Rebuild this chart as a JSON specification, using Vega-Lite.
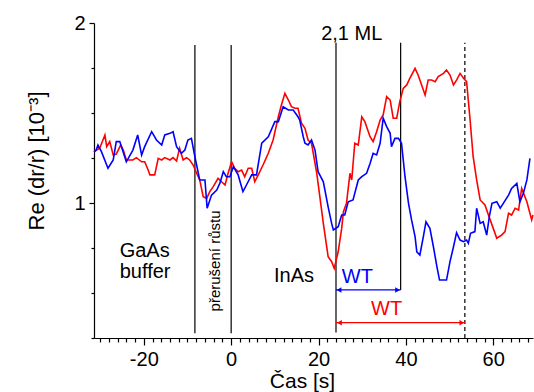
{
  "$schema": "https://vega.github.io/schema/vega-lite/v6.json",
  "width": 439,
  "height": 315,
  "autosize": "none",
  "padding": {"left": 94, "top": 23, "right": 1, "bottom": 54},
  "background": "white",
  "config": {"view": {"stroke": null}, "font": "Liberation Sans"},
  "datasets": {
    "curves": [
      {"x": -31.4, "y": 1.286, "s": "red"}, {"x": -30.1, "y": 1.304, "s": "red"}, {"x": -28.9, "y": 1.378, "s": "red"}, {"x": -28.5, "y": 1.313, "s": "red"}, {"x": -27.8, "y": 1.341, "s": "red"}, {"x": -27.0, "y": 1.267, "s": "red"}, {"x": -26.3, "y": 1.272, "s": "red"}, {"x": -25.3, "y": 1.322, "s": "red"}, {"x": -24.7, "y": 1.294, "s": "red"}, {"x": -24.0, "y": 1.239, "s": "red"}, {"x": -22.5, "y": 1.239, "s": "red"}, {"x": -21.7, "y": 1.252, "s": "red"}, {"x": -20.5, "y": 1.229, "s": "red"}, {"x": -19.8, "y": 1.229, "s": "red"}, {"x": -19.0, "y": 1.183, "s": "red"}, {"x": -18.6, "y": 1.156, "s": "red"}, {"x": -17.5, "y": 1.156, "s": "red"}, {"x": -16.7, "y": 1.248, "s": "red"}, {"x": -15.9, "y": 1.239, "s": "red"}, {"x": -15.2, "y": 1.252, "s": "red"}, {"x": -14.0, "y": 1.239, "s": "red"}, {"x": -13.3, "y": 1.252, "s": "red"}, {"x": -12.5, "y": 1.233, "s": "red"}, {"x": -11.8, "y": 1.304, "s": "red"}, {"x": -11.0, "y": 1.239, "s": "red"}, {"x": -10.2, "y": 1.252, "s": "red"}, {"x": -9.5, "y": 1.239, "s": "red"}, {"x": -8.7, "y": 1.211, "s": "red"}, {"x": -7.9, "y": 1.165, "s": "red"}, {"x": -7.2, "y": 1.128, "s": "red"}, {"x": -6.4, "y": 1.035, "s": "red"}, {"x": -5.6, "y": 1.026, "s": "red"}, {"x": -4.9, "y": 1.063, "s": "red"}, {"x": -4.1, "y": 1.091, "s": "red"}, {"x": -3.0, "y": 1.137, "s": "red"}, {"x": -2.2, "y": 1.118, "s": "red"}, {"x": -1.4, "y": 1.1, "s": "red"}, {"x": -0.7, "y": 1.165, "s": "red"}, {"x": 0.1, "y": 1.229, "s": "red"}, {"x": 0.8, "y": 1.193, "s": "red"}, {"x": 1.6, "y": 1.174, "s": "red"}, {"x": 2.4, "y": 1.183, "s": "red"}, {"x": 3.1, "y": 1.146, "s": "red"}, {"x": 3.9, "y": 1.193, "s": "red"}, {"x": 4.7, "y": 1.193, "s": "red"}, {"x": 5.4, "y": 1.118, "s": "red"}, {"x": 6.2, "y": 1.156, "s": "red"}, {"x": 7.3, "y": 1.211, "s": "red"}, {"x": 8.5, "y": 1.276, "s": "red"}, {"x": 9.6, "y": 1.35, "s": "red"}, {"x": 10.8, "y": 1.479, "s": "red"}, {"x": 11.5, "y": 1.544, "s": "red"}, {"x": 12.3, "y": 1.609, "s": "red"}, {"x": 13.1, "y": 1.572, "s": "red"}, {"x": 13.8, "y": 1.535, "s": "red"}, {"x": 14.6, "y": 1.526, "s": "red"}, {"x": 15.3, "y": 1.526, "s": "red"}, {"x": 16.1, "y": 1.443, "s": "red"}, {"x": 16.9, "y": 1.415, "s": "red"}, {"x": 17.6, "y": 1.35, "s": "red"}, {"x": 18.4, "y": 1.332, "s": "red"}, {"x": 19.6, "y": 1.165, "s": "red"}, {"x": 20.3, "y": 1.035, "s": "red"}, {"x": 21.1, "y": 0.887, "s": "red"}, {"x": 22.2, "y": 0.702, "s": "red"}, {"x": 23.0, "y": 0.674, "s": "red"}, {"x": 23.6, "y": 0.637, "s": "red"}, {"x": 24.5, "y": 0.729, "s": "red"}, {"x": 25.3, "y": 0.859, "s": "red"}, {"x": 25.7, "y": 0.952, "s": "red"}, {"x": 26.4, "y": 0.998, "s": "red"}, {"x": 27.2, "y": 1.165, "s": "red"}, {"x": 27.6, "y": 1.128, "s": "red"}, {"x": 28.3, "y": 1.332, "s": "red"}, {"x": 29.1, "y": 1.322, "s": "red"}, {"x": 29.9, "y": 1.479, "s": "red"}, {"x": 30.6, "y": 1.452, "s": "red"}, {"x": 31.8, "y": 1.368, "s": "red"}, {"x": 32.5, "y": 1.341, "s": "red"}, {"x": 33.3, "y": 1.396, "s": "red"}, {"x": 34.1, "y": 1.461, "s": "red"}, {"x": 34.8, "y": 1.489, "s": "red"}, {"x": 35.6, "y": 1.591, "s": "red"}, {"x": 36.4, "y": 1.572, "s": "red"}, {"x": 37.1, "y": 1.471, "s": "red"}, {"x": 37.9, "y": 1.471, "s": "red"}, {"x": 38.6, "y": 1.563, "s": "red"}, {"x": 39.4, "y": 1.637, "s": "red"}, {"x": 40.2, "y": 1.656, "s": "red"}, {"x": 40.9, "y": 1.693, "s": "red"}, {"x": 42.1, "y": 1.748, "s": "red"}, {"x": 42.8, "y": 1.711, "s": "red"}, {"x": 43.6, "y": 1.656, "s": "red"}, {"x": 44.4, "y": 1.6, "s": "red"}, {"x": 45.1, "y": 1.683, "s": "red"}, {"x": 45.9, "y": 1.683, "s": "red"}, {"x": 46.7, "y": 1.674, "s": "red"}, {"x": 47.4, "y": 1.702, "s": "red"}, {"x": 48.6, "y": 1.72, "s": "red"}, {"x": 49.3, "y": 1.739, "s": "red"}, {"x": 50.1, "y": 1.711, "s": "red"}, {"x": 50.9, "y": 1.656, "s": "red"}, {"x": 51.6, "y": 1.683, "s": "red"}, {"x": 52.4, "y": 1.72, "s": "red"}, {"x": 53.2, "y": 1.693, "s": "red"}, {"x": 53.9, "y": 1.674, "s": "red"}, {"x": 54.7, "y": 1.461, "s": "red"}, {"x": 55.4, "y": 1.257, "s": "red"}, {"x": 56.2, "y": 1.128, "s": "red"}, {"x": 57.0, "y": 1.017, "s": "red"}, {"x": 58.1, "y": 0.989, "s": "red"}, {"x": 58.9, "y": 0.933, "s": "red"}, {"x": 60.0, "y": 0.859, "s": "red"}, {"x": 60.8, "y": 0.804, "s": "red"}, {"x": 61.9, "y": 0.822, "s": "red"}, {"x": 62.7, "y": 0.841, "s": "red"}, {"x": 63.5, "y": 0.943, "s": "red"}, {"x": 64.2, "y": 0.933, "s": "red"}, {"x": 65.0, "y": 0.971, "s": "red"}, {"x": 65.8, "y": 0.961, "s": "red"}, {"x": 66.5, "y": 1.081, "s": "red"}, {"x": 67.7, "y": 1.007, "s": "red"}, {"x": 68.8, "y": 0.906, "s": "red"}, {"x": 69.1, "y": 0.933, "s": "red"},
      {"x": -31.4, "y": 1.283, "s": "blue"}, {"x": -30.9, "y": 1.294, "s": "blue"}, {"x": -30.5, "y": 1.322, "s": "blue"}, {"x": -29.7, "y": 1.285, "s": "blue"}, {"x": -28.2, "y": 1.193, "s": "blue"}, {"x": -27.0, "y": 1.239, "s": "blue"}, {"x": -26.3, "y": 1.341, "s": "blue"}, {"x": -25.5, "y": 1.341, "s": "blue"}, {"x": -24.0, "y": 1.229, "s": "blue"}, {"x": -22.5, "y": 1.294, "s": "blue"}, {"x": -21.4, "y": 1.378, "s": "blue"}, {"x": -20.5, "y": 1.267, "s": "blue"}, {"x": -19.8, "y": 1.313, "s": "blue"}, {"x": -18.2, "y": 1.396, "s": "blue"}, {"x": -17.1, "y": 1.35, "s": "blue"}, {"x": -15.9, "y": 1.322, "s": "blue"}, {"x": -15.2, "y": 1.378, "s": "blue"}, {"x": -14.0, "y": 1.387, "s": "blue"}, {"x": -13.3, "y": 1.396, "s": "blue"}, {"x": -12.5, "y": 1.313, "s": "blue"}, {"x": -11.4, "y": 1.276, "s": "blue"}, {"x": -10.6, "y": 1.294, "s": "blue"}, {"x": -9.9, "y": 1.35, "s": "blue"}, {"x": -9.1, "y": 1.359, "s": "blue"}, {"x": -8.3, "y": 1.257, "s": "blue"}, {"x": -7.2, "y": 1.128, "s": "blue"}, {"x": -6.0, "y": 1.128, "s": "blue"}, {"x": -5.5, "y": 0.971, "s": "blue"}, {"x": -4.5, "y": 1.044, "s": "blue"}, {"x": -3.3, "y": 1.072, "s": "blue"}, {"x": -2.6, "y": 1.109, "s": "blue"}, {"x": -1.8, "y": 1.174, "s": "blue"}, {"x": -1.1, "y": 1.146, "s": "blue"}, {"x": -0.3, "y": 1.146, "s": "blue"}, {"x": 0.5, "y": 1.202, "s": "blue"}, {"x": 1.6, "y": 1.156, "s": "blue"}, {"x": 2.7, "y": 1.063, "s": "blue"}, {"x": 3.5, "y": 1.1, "s": "blue"}, {"x": 4.7, "y": 1.156, "s": "blue"}, {"x": 5.8, "y": 1.156, "s": "blue"}, {"x": 7.0, "y": 1.332, "s": "blue"}, {"x": 8.5, "y": 1.368, "s": "blue"}, {"x": 10.0, "y": 1.452, "s": "blue"}, {"x": 10.8, "y": 1.452, "s": "blue"}, {"x": 11.9, "y": 1.535, "s": "blue"}, {"x": 13.1, "y": 1.517, "s": "blue"}, {"x": 14.2, "y": 1.517, "s": "blue"}, {"x": 15.3, "y": 1.479, "s": "blue"}, {"x": 15.7, "y": 1.461, "s": "blue"}, {"x": 16.5, "y": 1.368, "s": "blue"}, {"x": 16.9, "y": 1.332, "s": "blue"}, {"x": 17.6, "y": 1.322, "s": "blue"}, {"x": 18.4, "y": 1.35, "s": "blue"}, {"x": 19.2, "y": 1.294, "s": "blue"}, {"x": 19.9, "y": 1.174, "s": "blue"}, {"x": 21.1, "y": 1.118, "s": "blue"}, {"x": 22.2, "y": 0.979, "s": "blue"}, {"x": 23.0, "y": 0.887, "s": "blue"}, {"x": 23.4, "y": 0.85, "s": "blue"}, {"x": 24.5, "y": 0.868, "s": "blue"}, {"x": 25.3, "y": 0.933, "s": "blue"}, {"x": 26.0, "y": 0.933, "s": "blue"}, {"x": 26.8, "y": 1.007, "s": "blue"}, {"x": 27.9, "y": 1.017, "s": "blue"}, {"x": 29.1, "y": 1.128, "s": "blue"}, {"x": 29.9, "y": 1.146, "s": "blue"}, {"x": 31.0, "y": 1.165, "s": "blue"}, {"x": 31.8, "y": 1.22, "s": "blue"}, {"x": 32.5, "y": 1.276, "s": "blue"}, {"x": 33.3, "y": 1.267, "s": "blue"}, {"x": 34.1, "y": 1.332, "s": "blue"}, {"x": 34.8, "y": 1.471, "s": "blue"}, {"x": 35.6, "y": 1.424, "s": "blue"}, {"x": 36.4, "y": 1.387, "s": "blue"}, {"x": 36.7, "y": 1.313, "s": "blue"}, {"x": 37.5, "y": 1.359, "s": "blue"}, {"x": 38.3, "y": 1.359, "s": "blue"}, {"x": 39.0, "y": 1.332, "s": "blue"}, {"x": 39.8, "y": 1.146, "s": "blue"}, {"x": 40.6, "y": 0.998, "s": "blue"}, {"x": 41.3, "y": 0.906, "s": "blue"}, {"x": 42.1, "y": 0.813, "s": "blue"}, {"x": 42.5, "y": 0.729, "s": "blue"}, {"x": 43.2, "y": 0.711, "s": "blue"}, {"x": 44.0, "y": 0.813, "s": "blue"}, {"x": 44.6, "y": 0.896, "s": "blue"}, {"x": 45.5, "y": 0.859, "s": "blue"}, {"x": 46.3, "y": 0.757, "s": "blue"}, {"x": 47.1, "y": 0.646, "s": "blue"}, {"x": 47.7, "y": 0.572, "s": "blue"}, {"x": 49.3, "y": 0.572, "s": "blue"}, {"x": 50.1, "y": 0.674, "s": "blue"}, {"x": 50.9, "y": 0.757, "s": "blue"}, {"x": 51.6, "y": 0.835, "s": "blue"}, {"x": 52.4, "y": 0.794, "s": "blue"}, {"x": 53.2, "y": 0.785, "s": "blue"}, {"x": 53.9, "y": 0.794, "s": "blue"}, {"x": 54.3, "y": 0.776, "s": "blue"}, {"x": 54.8, "y": 0.832, "s": "blue"}, {"x": 55.8, "y": 0.841, "s": "blue"}, {"x": 56.2, "y": 0.971, "s": "blue"}, {"x": 57.0, "y": 0.887, "s": "blue"}, {"x": 57.7, "y": 0.896, "s": "blue"}, {"x": 58.5, "y": 0.822, "s": "blue"}, {"x": 59.1, "y": 0.924, "s": "blue"}, {"x": 59.7, "y": 0.998, "s": "blue"}, {"x": 60.8, "y": 1.007, "s": "blue"}, {"x": 61.6, "y": 0.971, "s": "blue"}, {"x": 62.3, "y": 0.998, "s": "blue"}, {"x": 63.5, "y": 1.044, "s": "blue"}, {"x": 64.2, "y": 1.081, "s": "blue"}, {"x": 65.4, "y": 1.109, "s": "blue"}, {"x": 66.1, "y": 1.007, "s": "blue"}, {"x": 66.9, "y": 1.054, "s": "blue"}, {"x": 67.7, "y": 1.128, "s": "blue"}, {"x": 68.4, "y": 1.248, "s": "blue"}
    ],
    "rules": [
      {"x": -8.3, "y": 0.276, "y2": 1.878},
      {"x": 0, "y": 0.276, "y2": 1.878},
      {"x": 24, "y": 0.28, "y2": 1.89},
      {"x": 38.8, "y": 0.517, "y2": 1.89}
    ],
    "dashed": [
      {"x": 53.5, "y": 0.25, "y2": 1.89}
    ],
    "arrows": [
      {"x": 24, "x2": 38.8, "y": 0.517, "s": "blue"},
      {"x": 24, "x2": 53.5, "y": 0.335, "s": "red"}
    ],
    "heads": [
      {"x": 24.7, "y": 0.517, "s": "blue", "dir": "l"},
      {"x": 38.1, "y": 0.517, "s": "blue", "dir": "r"},
      {"x": 24.8, "y": 0.335, "s": "red", "dir": "l"},
      {"x": 52.8, "y": 0.335, "s": "red", "dir": "r"}
    ],
    "labels": [
      {"x": -19.8, "y": 0.7, "label": "GaAs"},
      {"x": -19.7, "y": 0.583, "label": "buffer"},
      {"x": 14.4, "y": 0.561, "label": "InAs"},
      {"x": 27.6, "y": 1.906, "label": "2,1 ML"}
    ],
    "wt": [
      {"x": 28.9, "y": 0.556, "label": "WT", "s": "blue"},
      {"x": 35.6, "y": 0.378, "label": "WT", "s": "red"}
    ],
    "vertical": [
      {"x": -2.6, "y": 0.678, "label": "přerušení růstu"}
    ]
  },
  "encoding": {
    "x": {
      "field": "x", "type": "quantitative",
      "scale": {"domain": [-31.4, 69.1], "nice": false, "zero": false},
      "axis": {
        "values": [-30,-28,-26,-24,-22,-20,-18,-16,-14,-12,-10,-8,-6,-4,-2,0,2,4,6,8,10,12,14,16,18,20,22,24,26,28,30,32,34,36,38,40,42,44,46,48,50,52,54,56,58,60,62,64,66,68],
        "labelExpr": "datum.value % 20 === 0 ? '' + datum.value : ''",
        "tickSize": {"condition": {"test": "datum.value % 20 === 0", "value": 7}, "value": 4},
        "tickColor": "black", "tickWidth": 1.2,
        "domainColor": "black", "domainWidth": 1.2,
        "grid": false,
        "labelFontSize": 20, "labelColor": "black", "labelBaseline": "alphabetic", "labelPadding": 20,
        "labelOverlap": false, "labelFlush": false,
        "title": "Čas [s]", "titleFontSize": 21, "titleFontWeight": "normal", "titleColor": "black",
        "titleX": 208, "titleY": 49, "titleAlign": "center", "titleBaseline": "alphabetic"
      }
    },
    "y": {
      "field": "y", "type": "quantitative",
      "scale": {"domain": [0.25, 2], "nice": false, "zero": false},
      "axis": {
        "values": [0.25, 0.5, 0.75, 1, 1.25, 1.5, 1.75, 2],
        "labelExpr": "datum.value === 1 || datum.value === 2 ? '' + datum.value : ''",
        "tickSize": {"condition": {"test": "datum.value === 1 || datum.value === 2", "value": 5}, "value": 3},
        "tickColor": "black", "tickWidth": 1.2,
        "domainColor": "black", "domainWidth": 1.2,
        "grid": false,
        "labelFontSize": 20, "labelColor": "black", "labelBaseline": "middle", "labelPadding": 4,
        "labelOverlap": false, "labelFlush": false,
        "title": "Re (dr/r) [10⁻³]", "titleFontSize": 22, "titleFontWeight": "normal", "titleColor": "black",
        "titleAngle": -90, "titleX": -51, "titleY": 207, "titleAlign": "left", "titleBaseline": "alphabetic"
      }
    }
  },
  "layer": [
    {
      "data": {"name": "rules"},
      "mark": {"type": "rule", "color": "black", "strokeWidth": 1.2},
      "encoding": {"y2": {"field": "y2"}}
    },
    {
      "data": {"name": "dashed"},
      "mark": {"type": "rule", "color": "black", "strokeWidth": 1.2, "strokeDash": [4, 3]},
      "encoding": {"y2": {"field": "y2"}}
    },
    {
      "data": {"name": "curves"},
      "transform": [{"filter": "datum.s === 'red'"}],
      "mark": {"type": "line", "color": "#ff0000", "strokeWidth": 1.6}
    },
    {
      "data": {"name": "curves"},
      "transform": [{"filter": "datum.s === 'blue'"}],
      "mark": {"type": "line", "color": "#0000ff", "strokeWidth": 1.6}
    },
    {
      "data": {"name": "arrows"},
      "mark": {"type": "rule", "strokeWidth": 1.2},
      "encoding": {
        "x2": {"field": "x2"},
        "color": {"field": "s", "type": "nominal", "scale": {"domain": ["red", "blue"], "range": ["#ff0000", "#0000ff"]}, "legend": null}
      }
    },
    {
      "data": {"name": "heads"},
      "mark": {"type": "point", "filled": true, "size": 30, "opacity": 1},
      "encoding": {
        "shape": {"field": "dir", "type": "nominal", "scale": {"domain": ["l", "r"], "range": ["triangle-left", "triangle-right"]}, "legend": null},
        "color": {"field": "s", "type": "nominal", "scale": {"domain": ["red", "blue"], "range": ["#ff0000", "#0000ff"]}, "legend": null}
      }
    },
    {
      "data": {"name": "labels"},
      "mark": {"type": "text", "fontSize": 20, "color": "black", "align": "center", "baseline": "alphabetic"},
      "encoding": {"text": {"field": "label"}}
    },
    {
      "data": {"name": "wt"},
      "mark": {"type": "text", "fontSize": 20, "align": "center", "baseline": "alphabetic"},
      "encoding": {
        "text": {"field": "label"},
        "color": {"field": "s", "type": "nominal", "scale": {"domain": ["red", "blue"], "range": ["#ff0000", "#0000ff"]}, "legend": null}
      }
    },
    {
      "data": {"name": "vertical"},
      "mark": {"type": "text", "fontSize": 15, "color": "black", "align": "center", "baseline": "alphabetic", "angle": 270},
      "encoding": {"text": {"field": "label"}}
    }
  ]
}
